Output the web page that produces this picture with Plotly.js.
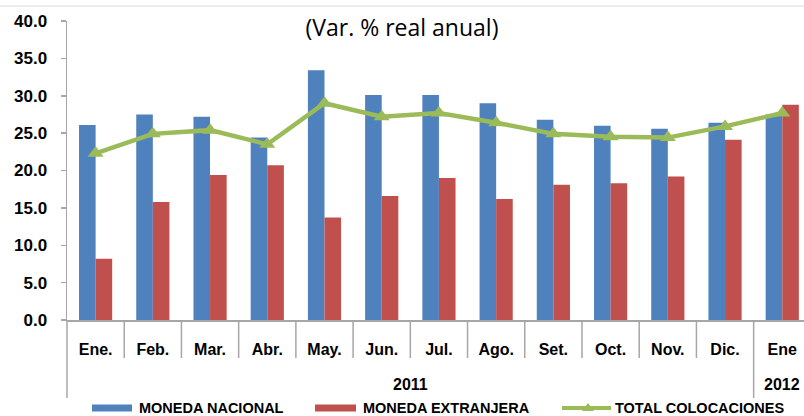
<!DOCTYPE html>
<html>
<head>
<meta charset="utf-8">
<script src="https://cdn.plot.ly/plotly-3.0.1.min.js"></script>
<style>html,body{margin:0;padding:0;background:#fff;}#chart{width:804px;height:416px;}</style>
</head>
<body>
<div id="chart"></div>
<script>
var months = ['Ene.','Feb.','Mar.','Abr.','May.','Jun.','Jul.','Ago.','Set.','Oct.','Nov.','Dic.','Ene'];
var nacional = [26.1, 27.5, 27.2, 24.4, 33.4, 30.1, 30.1, 29.0, 26.8, 26.0, 25.6, 26.4, 27.5];
var extranjera = [8.2, 15.8, 19.4, 20.7, 13.7, 16.6, 19.0, 16.2, 18.1, 18.3, 19.2, 24.1, 28.8];
var total = [22.3, 24.9, 25.4, 23.5, 29.0, 27.2, 27.7, 26.4, 24.9, 24.5, 24.4, 25.9, 27.7];
var years = ['2011', '2012'];
var yearCenters = [5.5, 12];
var seriesNames = ['MONEDA NACIONAL', 'MONEDA EXTRANJERA', 'TOTAL COLOCACIONES'];
var yTicks = [0, 5, 10, 15, 20, 25, 30, 35, 40];

var BLUE = '#4F81BD', RED = '#C0504D', GREEN = '#9BBB59', AX = '#A6A6A6';
var boldFont = {family: 'Liberation Sans, Arial, sans-serif', size: 16, color: '#000', weight: 'bold'};
var yFont = {family: 'Liberation Sans, Arial, sans-serif', size: 17, color: '#000', weight: 'bold'};

var traces = [
  {type: 'bar', x: months, y: nacional, name: seriesNames[0], marker: {color: BLUE}},
  {type: 'bar', x: months, y: extranjera, name: seriesNames[1], marker: {color: RED}},
  {type: 'scatter', mode: 'lines+markers', x: months, y: total, name: seriesNames[2],
   line: {color: GREEN, width: 4.5}, marker: {symbol: 'triangle-up', size: 14, color: GREEN}}
];

var plotW = 737, plotH = 299;
function px2x(px) { return (px - 67) / plotW; }
function px2y(py) { return (320 - py) / plotH; }

var shapes = [];
for (var i = 1; i < months.length; i++) {
  var longSep = (i === 12);
  shapes.push({type: 'line', xref: 'x', yref: 'paper', x0: i - 0.5, x1: i - 0.5,
    y0: 0, y1: longSep ? px2y(398) : px2y(358), line: {color: AX, width: 1.5}});
}
shapes.push({type: 'line', xref: 'paper', yref: 'paper', x0: 0, x1: 0, y0: 0, y1: px2y(398), line: {color: AX, width: 1.5}});
shapes.push({type: 'line', xref: 'paper', yref: 'paper', x0: px2x(0), x1: 1, y0: px2y(6), y1: px2y(6), line: {color: '#D9D9D9', width: 1}});
var legY = 408;
shapes.push({type: 'rect', xref: 'paper', yref: 'paper', x0: px2x(92), x1: px2x(132), y0: px2y(404.5), y1: px2y(411.5), fillcolor: BLUE, line: {width: 0}});
shapes.push({type: 'rect', xref: 'paper', yref: 'paper', x0: px2x(315), x1: px2x(356), y0: px2y(404.5), y1: px2y(411.5), fillcolor: RED, line: {width: 0}});
shapes.push({type: 'line', xref: 'paper', yref: 'paper', x0: px2x(562), x1: px2x(611), y0: px2y(legY), y1: px2y(legY), line: {color: GREEN, width: 4}});
shapes.push({type: 'path', xref: 'paper', yref: 'paper',
  path: 'M ' + px2x(582) + ',' + px2y(411) + ' L ' + px2x(594) + ',' + px2y(411) + ' L ' + px2x(588) + ',' + px2y(403) + ' Z',
  fillcolor: GREEN, line: {width: 0}});

var legFont = {family: 'Liberation Sans, Arial, sans-serif', size: 14.5, color: '#000', weight: 'bold'};
var annotations = [
  {xref: 'x', yref: 'paper', x: yearCenters[0], y: px2y(384), text: years[0], showarrow: false, font: boldFont, xanchor: 'center', yanchor: 'middle'},
  {xref: 'x', yref: 'paper', x: yearCenters[1], y: px2y(384), text: years[1], showarrow: false, font: boldFont, xanchor: 'center', yanchor: 'middle'},
  {xref: 'paper', yref: 'paper', x: px2x(137), y: px2y(legY), text: seriesNames[0], showarrow: false, font: legFont, xanchor: 'left', yanchor: 'middle'},
  {xref: 'paper', yref: 'paper', x: px2x(361), y: px2y(legY), text: seriesNames[1], showarrow: false, font: legFont, xanchor: 'left', yanchor: 'middle'},
  {xref: 'paper', yref: 'paper', x: px2x(613), y: px2y(legY), text: seriesNames[2], showarrow: false, font: legFont, xanchor: 'left', yanchor: 'middle'}
];

var layout = {
  width: 804, height: 416,
  margin: {l: 67, r: 0, t: 21, b: 96, pad: 0},
  paper_bgcolor: '#fff', plot_bgcolor: '#fff',
  showlegend: false,
  barmode: 'group', bargap: 0.42, bargroupgap: 0,
  title: {text: '(Var. % real anual)', x: 402 / 804, xanchor: 'center', xref: 'container', y: 1 - 27.5 / 416, yref: 'container', yanchor: 'middle',
    font: {family: 'Open Sans, sans-serif', size: 23, color: '#000'}},
  xaxis: {
    type: 'category', range: [-0.5, 12.38], showgrid: false, zeroline: false,
    showline: true, linecolor: AX, linewidth: 1.5, ticks: '',
    tickfont: boldFont, ticklabelstandoff: 14, fixedrange: true
  },
  yaxis: {
    range: [0, 40], tickvals: yTicks, tickformat: '.1f', showgrid: false, zeroline: false,
    showline: true, linecolor: AX, linewidth: 1.5, ticks: 'outside', ticklen: 5, tickcolor: AX, tickwidth: 1.5,
    tickfont: yFont, ticklabelstandoff: 10, fixedrange: true
  },
  shapes: shapes,
  annotations: annotations
};

Plotly.newPlot('chart', traces, layout, {staticPlot: true, displayModeBar: false});
</script>
</body>
</html>
